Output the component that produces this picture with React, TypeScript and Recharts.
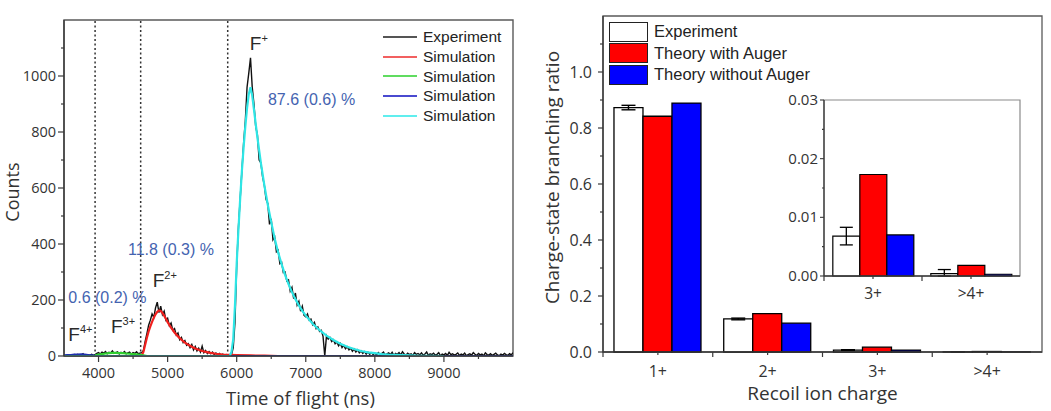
import React from 'react';
import {
  LineChart,
  Line,
  XAxis,
  YAxis,
  ReferenceLine,
  ReferenceArea,
  ReferenceDot,
  BarChart,
  Bar,
  ErrorBar,
} from 'recharts';

// ---------- time-of-flight spectrum ----------
const TOF_START = 3500;
const TOF_STEP = 25;

// measured counts, one bin every 25 ns starting at 3500 ns
const experimentCounts = [
  // 3500 - 3925
  2, 0, 4, 1, 3, 0, 5, 2, 6, 1, 3, 8, 2, 4, 1, 3, 6, 2,
  // 3950 - 4600
  5, 9, 12, 7, 14, 10, 16, 8, 13, 11, 18, 9, 12, 15, 7, 13, 10, 16, 8, 11, 14, 6, 12, 9, 15, 8, 10,
  // 4625 - 5875
  12, 20, 52, 80, 110, 128, 150, 138, 172, 192, 155, 178, 148, 160, 128, 135, 108, 118, 92, 98,
  75, 82, 58, 66, 48, 55, 38, 44, 30, 41, 22, 34, 18, 28, 14, 35, 12, 20, 9, 16,
  8, 14, 5, 11, 4, 9, 3, 7, 2, 5, 1,
  // 5900 - 6975
  3, 5, 30, 120, 320, 460, 560, 660, 760, 840, 960, 1010, 1065, 960, 900, 820, 790, 700, 690, 640,
  610, 560, 545, 470, 490, 415, 425, 372, 378, 330, 335, 298, 300, 268, 272, 232, 245, 205, 225, 182,
  195, 160, 178, 145,
  // 7000 - 7975
  140, 150, 128, 132, 112, 120, 98, 104, 88, 92, 70, 0, 72, 60, 66, 52, 58, 44, 50, 36,
  45, 30, 38, 26, 33, 22, 28, 17, 25, 14, 22, 11, 18, 9, 16, 7, 14, 6, 12, 5,
  // 8000 - 10000
  10, 4, 12, 6, 9, 14, 3, 8, 11, 5, 13, 2, 9, 6, 12, 4, 15, 7, 3, 10,
  5, 8, 2, 12, 6, 9, 4, 11, 3, 7, 14, 2, 8, 5, 10, 3, 6, 12, 1, 7,
  4, 9, 2, 13, 5, 8, 3, 6, 11, 2, 7, 4, 10, 1, 5, 8, 3, 12, 6, 2,
  9, 4, 7, 1, 11, 5, 3, 8, 2, 6, 10, 4, 1, 7, 3, 9, 5, 2, 8, 4, 12,
];

// simulated peaks, [time ns, counts]
const simF4 = [
  [3500, 3], [3550, 4], [3600, 4], [3650, 5], [3700, 5], [3750, 6], [3800, 5], [3850, 4],
  [3900, 3], [3950, 1], [4000, 0], [10000, 0],
];
const simF3 = [
  [3950, 2], [4000, 5], [4050, 7], [4100, 9], [4150, 10], [4200, 11], [4250, 11], [4300, 10],
  [4350, 10], [4400, 9], [4450, 8], [4500, 7], [4550, 6], [4600, 4], [4650, 2], [4700, 0],
];
const simF2 = [
  [4600, 0], [4625, 2], [4650, 15], [4675, 40], [4700, 65], [4725, 88], [4750, 106], [4775, 122],
  [4800, 137], [4825, 149], [4850, 158], [4875, 163], [4900, 161], [4925, 154], [4950, 144],
  [4975, 133], [5000, 121], [5050, 101], [5100, 84], [5150, 70], [5200, 58], [5250, 48],
  [5300, 40], [5350, 33], [5400, 27], [5450, 22], [5500, 18], [5600, 12], [5700, 8], [5800, 5],
  [5900, 4], [6000, 3], [6200, 2], [6400, 1], [6600, 0],
];
const simF1 = [
  [3500, 0], [5900, 0], [5925, 15], [5950, 60], [5975, 180], [6000, 330], [6025, 450], [6050, 560],
  [6075, 660], [6100, 745], [6125, 820], [6150, 885], [6175, 935], [6200, 960], [6225, 930],
  [6250, 880], [6275, 830], [6300, 780], [6350, 690], [6400, 610], [6450, 540], [6500, 478],
  [6550, 420], [6600, 370], [6650, 328], [6700, 290], [6750, 257], [6800, 228], [6850, 203],
  [6900, 181], [6950, 161], [7000, 144], [7100, 115], [7200, 92], [7300, 73], [7400, 57],
  [7500, 44], [7600, 33], [7700, 25], [7800, 18], [7900, 13], [8000, 10], [8100, 7], [8200, 5],
  [8400, 3], [8600, 1], [9000, 0],
];

const gateTimes = [3950, 4610, 5870];
const tofTicks = [4000, 4500, 5000, 5500, 6000, 6500, 7000, 7500, 8000, 8500, 9000, 9500];
const countTicks = [0, 100, 200, 300, 400, 500, 600, 700, 800, 900, 1000, 1100];

const ionLabels = [
  { t: 3562, c: 55, sup: '4+' },
  { t: 4180, c: 82, sup: '3+' },
  { t: 4784, c: 248, sup: '2+' },
  { t: 6190, c: 1093, sup: '+' },
];
const yieldLabels = [
  { t: 3562, c: 189, text: '0.6 (0.2) %' },
  { t: 4426, c: 361, text: '11.8 (0.3) %' },
  { t: 6453, c: 896, text: '87.6 (0.6) %' },
];

// ---------- charge-state branching ratios ----------
const charges = ['1+', '2+', '3+', '>4+'];
const expRatio = [0.873, 0.118, 0.0068, 0.0004];
const expErr = [[0.008, 0.008], [0.003, 0.003], [0.0015, 0.0015], [0.0004, 0.0007]];
const withAuger = [0.842, 0.137, 0.0173, 0.0018];
const withoutAuger = [0.889, 0.103, 0.007, 0.0003];

const ratioTicks = [0, 0.1, 0.2, 0.3, 0.4, 0.5, 0.6, 0.7, 0.8, 0.9, 1.0, 1.1];
const insetTicks = [0, 0.005, 0.01, 0.015, 0.02, 0.025, 0.03];

const INK = '#333';
const AXIS = '#3a3a3a';
const FRAME = '#5a5a5a';
const TICK_FONT = '"Open Sans", sans-serif';
const ARIAL = '"Liberation Sans", Arial, sans-serif';
const NOTE_BLUE = '#4463b0';

const C_EXP = '#111';
const C_RED = '#f0201e';
const C_GREEN = '#30d030';
const C_BLUE = '#2030b0';
const C_CYAN = '#2ee6e6';

const tofLegend = [
  { name: 'Experiment', color: '#555' },
  { name: 'Simulation', color: '#f26060' },
  { name: 'Simulation', color: '#60dc60' },
  { name: 'Simulation', color: '#4a4ad0' },
  { name: 'Simulation', color: '#60eeee' },
];
const ratioLegend = [
  { name: 'Experiment', color: '#fff' },
  { name: 'Theory with Auger', color: '#ff0000' },
  { name: 'Theory without Auger', color: '#0000ff' },
];

const experimentSeries = experimentCounts.map((c, i) => ({ t: TOF_START + i * TOF_STEP, y: c }));
const toSeries = (pts: number[][]) => pts.map(([t, y]) => ({ t, y }));

const ratioRows = charges.map((charge, i) => ({
  charge,
  exp: expRatio[i],
  err: expErr[i],
  withAuger: withAuger[i],
  withoutAuger: withoutAuger[i],
}));
const insetRows = ratioRows.slice(2);

const MAIN_BAND_HALF = 439 / 4 / 2;
const INSET_BAND_HALF = 196 / 2 / 2;

// ---------- ticks ----------
const CountTick = ({ x, y, payload }: any) => {
  const v = payload.value as number;
  const major = v % 200 === 0;
  const ax = x + 8;
  return (
    <g>
      <line x1={ax - (major ? 6 : 3)} y1={y} x2={ax} y2={y} stroke={AXIS} strokeWidth={1.2} />
      {major && (
        <text x={x} y={y + 5} textAnchor="end" fontSize={14.5} fontFamily={TICK_FONT} fill={INK}>
          {v}
        </text>
      )}
    </g>
  );
};

const TofTick = ({ x, y, payload }: any) => {
  const v = payload.value as number;
  const major = v % 1000 === 0;
  const ay = y - 8;
  return (
    <g>
      <line x1={x} y1={ay} x2={x} y2={ay + (major ? 6 : 3)} stroke={AXIS} strokeWidth={1.2} />
      {major && (
        <text x={x} y={ay + 22} textAnchor="middle" fontSize={14.5} fontFamily={TICK_FONT} fill={INK}>
          {v}
        </text>
      )}
    </g>
  );
};

const RatioTick = ({ x, y, payload }: any) => {
  const v = payload.value as number;
  const major = Math.round(v * 10) % 2 === 0;
  const ax = x + 11;
  return (
    <g>
      <line x1={ax - (major ? 5 : 3)} y1={y} x2={ax} y2={y} stroke={AXIS} strokeWidth={1.2} />
      {major && (
        <text x={x} y={y + 5.5} textAnchor="end" fontSize={16} fontFamily={TICK_FONT} fill={INK}>
          {v.toFixed(1)}
        </text>
      )}
    </g>
  );
};

const InsetYTick = ({ x, y, payload }: any) => {
  const v = payload.value as number;
  const major = Math.round(v * 1000) % 10 === 0;
  const ax = x + 6;
  return (
    <g>
      <line x1={ax - (major ? 4 : 2)} y1={y} x2={ax} y2={y} stroke={AXIS} strokeWidth={1.1} />
      {major && (
        <text x={x} y={y + 5} textAnchor="end" fontSize={15} fontFamily={TICK_FONT} fill={INK}>
          {v.toFixed(2)}
        </text>
      )}
    </g>
  );
};

// category ticks: tick marks on the band edges, label in the middle
const makeChargeTick = (half: number, size: number, dropY: number) => ({ x, y, payload }: any) => {
  const ay = y - 7;
  return (
    <g>
      <line x1={x - half} y1={ay} x2={x - half} y2={ay + 5} stroke={AXIS} strokeWidth={1.2} />
      <line x1={x} y1={ay} x2={x} y2={ay + 3} stroke={AXIS} strokeWidth={1.2} />
      <text x={x} y={ay + dropY} textAnchor="middle" fontSize={size} fontFamily={TICK_FONT} fill={INK}>
        {payload.value}
      </text>
    </g>
  );
};
const ChargeTick = makeChargeTick(MAIN_BAND_HALF, 16, 25);
const InsetChargeTick = makeChargeTick(INSET_BAND_HALF, 15.5, 22.5);

// ---------- axis titles and annotations ----------
const VTitle = ({ viewBox, text, dx, dy, size }: any) => {
  const cx = viewBox.x + dx;
  const cy = viewBox.y + viewBox.height / 2 + dy;
  return (
    <text
      x={cx}
      y={cy}
      transform={`rotate(-90 ${cx} ${cy})`}
      textAnchor="middle"
      dominantBaseline="central"
      fontSize={size}
      fontFamily={TICK_FONT}
      fill={INK}
    >
      {text}
    </text>
  );
};

const HTitle = ({ viewBox, text, dx, dy, size }: any) => (
  <text
    x={viewBox.x + viewBox.width / 2 + dx}
    y={viewBox.y + dy}
    textAnchor="middle"
    dominantBaseline="central"
    fontSize={size}
    fontFamily={TICK_FONT}
    fill={INK}
  >
    {text}
  </text>
);

const IonText = ({ viewBox, sup }: any) => (
  <text x={viewBox.x} y={viewBox.y} fontSize={19} fontFamily={ARIAL} fill="#2a2a2a">
    F
    <tspan dy={-8} fontSize={11}>
      {sup}
    </tspan>
  </text>
);

const YieldText = ({ viewBox, text }: any) => (
  <text x={viewBox.x} y={viewBox.y} fontSize={16} fontFamily={ARIAL} fill={NOTE_BLUE}>
    {text}
  </text>
);

const TofChart = () => (
  <LineChart width={530} height={411} margin={{ top: 20, right: 17, left: 0, bottom: 0 }}>
    <XAxis
      type="number"
      dataKey="t"
      domain={[3500, 10000]}
      ticks={tofTicks}
      interval={0}
      allowDataOverflow
      tick={<TofTick />}
      tickLine={false}
      tickSize={6}
      tickMargin={2}
      axisLine={{ stroke: AXIS, strokeWidth: 1.4 }}
      height={55}
      label={<HTitle text="Time of flight (ns)" dx={12} dy={41} size={18.5} />}
    />
    <YAxis
      type="number"
      domain={[0, 1200]}
      ticks={countTicks}
      interval={0}
      allowDataOverflow
      tick={<CountTick />}
      tickLine={false}
      tickSize={6}
      tickMargin={2}
      axisLine={{ stroke: AXIS, strokeWidth: 1.4 }}
      width={64}
      label={<VTitle text="Counts" dx={11.5} dy={4} size={18} />}
    />
    <ReferenceArea x1={3500} x2={10000} y1={0} y2={1200} fill="none" stroke={FRAME} strokeWidth={1.4} />
    {gateTimes.map((t) => (
      <ReferenceLine key={t} x={t} stroke="#333" strokeWidth={1.5} strokeDasharray="2 2.5" />
    ))}
    <Line data={experimentSeries} dataKey="y" stroke={C_EXP} strokeWidth={1.4} dot={false} isAnimationActive={false} />
    <Line data={toSeries(simF2)} dataKey="y" stroke={C_RED} strokeWidth={2.2} dot={false} isAnimationActive={false} />
    <Line data={toSeries(simF3)} dataKey="y" stroke={C_GREEN} strokeWidth={2.2} dot={false} isAnimationActive={false} />
    <Line data={toSeries(simF4)} dataKey="y" stroke={C_BLUE} strokeWidth={2} dot={false} isAnimationActive={false} />
    <Line data={toSeries(simF1)} dataKey="y" stroke={C_CYAN} strokeWidth={2.2} dot={false} isAnimationActive={false} />
    {ionLabels.map((l) => (
      <ReferenceDot key={l.sup} x={l.t} y={l.c} r={0} fill="none" stroke="none" label={<IonText sup={l.sup} />} />
    ))}
    {yieldLabels.map((l) => (
      <ReferenceDot key={l.text} x={l.t} y={l.c} r={0} fill="none" stroke="none" label={<YieldText text={l.text} />} />
    ))}
  </LineChart>
);

const RatioChart = () => (
  <BarChart
    width={521}
    height={411}
    data={ratioRows}
    margin={{ top: 16, right: 9, left: 0, bottom: 0 }}
    barCategoryGap="10%"
    barGap={0}
  >
    <XAxis
      dataKey="charge"
      tick={<ChargeTick />}
      tickLine={false}
      tickSize={5}
      tickMargin={2}
      interval={0}
      axisLine={{ stroke: AXIS, strokeWidth: 1.4 }}
      height={59}
      label={<HTitle text="Recoil ion charge" dx={0} dy={41} size={19} />}
    />
    <YAxis
      type="number"
      domain={[0, 1.2]}
      ticks={ratioTicks}
      interval={0}
      tick={<RatioTick />}
      tickLine={false}
      tickSize={5}
      tickMargin={6}
      axisLine={{ stroke: AXIS, strokeWidth: 1.4 }}
      width={73}
      label={<VTitle text="Charge-state branching ratio" dx={22} dy={-6.5} size={19} />}
    />
    <ReferenceArea y1={0} y2={1.2} fill="none" stroke={FRAME} strokeWidth={1.3} />
    <Bar dataKey="exp" fill="#fff" stroke="#000" strokeWidth={1.3} isAnimationActive={false}>
      <ErrorBar dataKey="err" width={7} stroke="#000" strokeWidth={1.4} direction="y" />
    </Bar>
    <Bar dataKey="withAuger" fill="#ff0000" stroke="#000" strokeWidth={1.3} isAnimationActive={false} />
    <Bar dataKey="withoutAuger" fill="#0000ff" stroke="#000" strokeWidth={1.3} isAnimationActive={false} />
  </BarChart>
);

const InsetChart = () => (
  <BarChart
    width={260}
    height={221}
    data={insetRows}
    margin={{ top: 15, right: 9, left: 0, bottom: 0 }}
    barCategoryGap="9%"
    barGap={0}
  >
    <XAxis
      dataKey="charge"
      tick={<InsetChargeTick />}
      tickLine={false}
      tickSize={5}
      tickMargin={2}
      interval={0}
      axisLine={{ stroke: AXIS, strokeWidth: 1.3 }}
      height={30}
    />
    <YAxis
      type="number"
      domain={[0, 0.03]}
      ticks={insetTicks}
      interval={0}
      tick={<InsetYTick />}
      tickLine={false}
      tickSize={4}
      tickMargin={2}
      axisLine={{ stroke: AXIS, strokeWidth: 1.3 }}
      width={55}
    />
    <ReferenceArea y1={0} y2={0.03} fill="none" stroke="#8a8a8a" strokeWidth={1.2} />
    <Bar dataKey="exp" fill="#fff" stroke="#000" strokeWidth={1.2} isAnimationActive={false}>
      <ErrorBar dataKey="err" width={6.5} stroke="#000" strokeWidth={1.3} direction="y" />
    </Bar>
    <Bar dataKey="withAuger" fill="#ff0000" stroke="#000" strokeWidth={1.2} isAnimationActive={false} />
    <Bar dataKey="withoutAuger" fill="#0000ff" stroke="#000" strokeWidth={1.2} isAnimationActive={false} />
  </BarChart>
);

const TofLegend = () => (
  <div style={{ position: 'absolute', left: 383, top: 27, fontFamily: ARIAL, fontSize: 15.5, color: '#222' }}>
    {tofLegend.map((item, i) => (
      <div key={i} style={{ display: 'flex', alignItems: 'center', height: 19.75 }}>
        <span style={{ width: 34, height: 2.2, background: item.color, marginRight: 6 }} />
        <span style={{ lineHeight: '19.75px' }}>{item.name}</span>
      </div>
    ))}
  </div>
);

const RatioLegend = () => (
  <div style={{ position: 'absolute', left: 609, top: 21, fontFamily: ARIAL, fontSize: 16.5, color: '#222' }}>
    {ratioLegend.map((item) => (
      <div key={item.name} style={{ display: 'flex', alignItems: 'center', height: 21.5 }}>
        <span
          style={{
            width: 37,
            height: 18,
            background: item.color,
            border: '1.3px solid #222',
            marginRight: 6,
            boxSizing: 'content-box',
          }}
        />
        <span>{item.name}</span>
      </div>
    ))}
  </div>
);

export default function App() {
  return (
    <div style={{ position: 'fixed', left: 0, top: 0, width: 1051, height: 411, background: '#fff', overflow: 'hidden' }}>
      <div style={{ position: 'absolute', left: 0, top: 0 }}>
        <TofChart />
      </div>
      <TofLegend />
      <div style={{ position: 'absolute', left: 530, top: 0 }}>
        <RatioChart />
      </div>
      <RatioLegend />
      <div style={{ position: 'absolute', left: 769, top: 85 }}>
        <InsetChart />
      </div>
    </div>
  );
}
